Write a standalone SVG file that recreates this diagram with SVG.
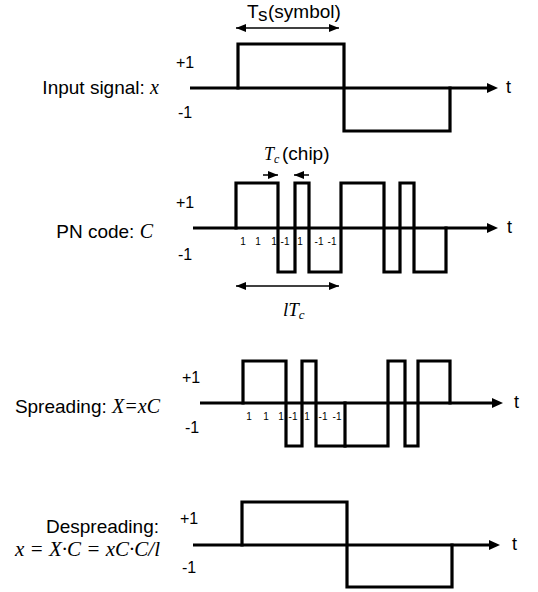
<svg xmlns="http://www.w3.org/2000/svg" width="538" height="592" viewBox="0 0 538 592">
<defs>
<style>
.bg{fill:#fff}
.wave{fill:none;stroke:#000;stroke-width:3.2;stroke-linejoin:miter;stroke-linecap:square}
.axis{stroke:#000;stroke-width:3.2}
.dim{stroke:#000;stroke-width:1.5}
.lbl{font-family:"Liberation Sans",Arial,sans-serif;font-size:19px;fill:#000}
.math{font-family:"Liberation Serif","Times New Roman",serif;font-style:italic;fill:#000}
.lvl{font-family:"Liberation Sans",Arial,sans-serif;font-size:16px;fill:#000}
.t{font-family:"Liberation Sans",Arial,sans-serif;font-size:18px;fill:#000}
.chip{font-family:"Liberation Sans",Arial,sans-serif;font-size:10px;fill:#000;text-anchor:middle}
</style>
<marker id="ax" markerUnits="userSpaceOnUse" markerWidth="12" markerHeight="12" refX="0" refY="5" orient="auto">
<path d="M0,0 L11,5 L0,10 Z" fill="#000"/>
</marker>
<marker id="dh" markerUnits="userSpaceOnUse" markerWidth="11" markerHeight="9" refX="10" refY="4" orient="auto-start-reverse">
<path d="M0,0 L10,4 L0,8 Z" fill="#000"/>
</marker>
</defs>
<rect class="bg" x="0" y="0" width="538" height="592"/>

<g id="connectors">
<line class="axis" x1="190" y1="88" x2="487" y2="88" marker-end="url(#ax)"/>
<line class="axis" x1="193" y1="228" x2="487" y2="228" marker-end="url(#ax)"/>
<line class="axis" x1="200" y1="403" x2="492" y2="403" marker-end="url(#ax)"/>
<line class="axis" x1="193" y1="545" x2="489" y2="545" marker-end="url(#ax)"/>
<line class="dim" x1="236" y1="28" x2="339" y2="28" marker-start="url(#dh)" marker-end="url(#dh)"/>
<line class="dim" x1="263" y1="175" x2="278" y2="175" marker-end="url(#dh)"/>
<line class="dim" x1="309" y1="175" x2="294" y2="175" marker-end="url(#dh)"/>
<line class="dim" x1="236" y1="286" x2="339" y2="286" marker-start="url(#dh)" marker-end="url(#dh)"/>
</g>

<g id="input-signal">
<text class="lbl" x="159" y="94" font-size="20" text-anchor="end">Input signal: <tspan class="math" font-size="20">x</tspan></text>
<text class="lvl" x="176" y="68">+1</text>
<text class="lvl" x="178" y="118">-1</text>
<text class="t" x="506" y="93">t</text>
<polyline class="wave" points="238,88 238,44 344,44 344,131 450,131 450,88"/>
<text class="lbl" x="247" y="18" font-size="17">T</text>
<text class="lbl" x="258" y="21" font-size="11">s</text>
<text class="lbl" x="268" y="18" font-size="17">(symbol)</text>
</g>

<g id="pn-code">
<text class="lbl" x="153" y="238" text-anchor="end">PN code: <tspan class="math" font-size="20">C</tspan></text>
<text class="lvl" x="176" y="208">+1</text>
<text class="lvl" x="178" y="260">-1</text>
<text class="t" x="507" y="233">t</text>
<polyline class="wave" points="236,228 236,183 278,183 278,272 295,272 295,183 309,183 309,272 341,272 341,183 384,183 384,272 400,272 400,183 414,183 414,272 446,272 446,228"/>
<text class="math" x="264" y="160" font-size="18">T<tspan font-size="12" dy="3">c</tspan></text>
<text class="lbl" x="282" y="160" font-size="17">(chip)</text>
<text class="chip" x="243" y="245">1</text>
<text class="chip" x="258" y="245">1</text>
<text class="chip" x="274" y="245">1</text>
<text class="chip" x="285" y="245">-1</text>
<text class="chip" x="300" y="245">1</text>
<text class="chip" x="319" y="245">-1</text>
<text class="chip" x="332" y="245">-1</text>
<text class="math" x="283" y="316" font-size="19">lT<tspan font-size="13" dy="3">c</tspan></text>
</g>

<g id="spreading">
<text class="lbl" x="160" y="413" text-anchor="end">Spreading: <tspan class="math" font-size="20">X=xC</tspan></text>
<text class="lvl" x="182" y="383">+1</text>
<text class="lvl" x="185" y="433">-1</text>
<text class="t" x="514" y="408">t</text>
<polyline class="wave" points="243,403 243,361 286,361 286,446 302,446 302,361 316,361 316,446 388,446 388,361 405,361 405,446 418,446 418,361 450,361 450,403"/>
<line class="wave" x1="345" y1="403" x2="345" y2="446"/>
<text class="chip" x="249" y="420">1</text>
<text class="chip" x="266" y="420">1</text>
<text class="chip" x="281" y="420">1</text>
<text class="chip" x="293" y="420">-1</text>
<text class="chip" x="307" y="420">1</text>
<text class="chip" x="323" y="420">-1</text>
<text class="chip" x="337" y="420">-1</text>
</g>

<g id="despreading">
<text class="lbl" x="159" y="533" text-anchor="end">Despreading:</text>
<text class="math" x="160" y="556" font-size="21" text-anchor="end">x = X·C = xC·C/l</text>
<text class="lvl" x="180" y="524">+1</text>
<text class="lvl" x="182" y="573">-1</text>
<text class="t" x="512" y="550">t</text>
<polyline class="wave" points="242,545 242,502 347,502 347,587 452,587 452,545"/>
</g>
</svg>
